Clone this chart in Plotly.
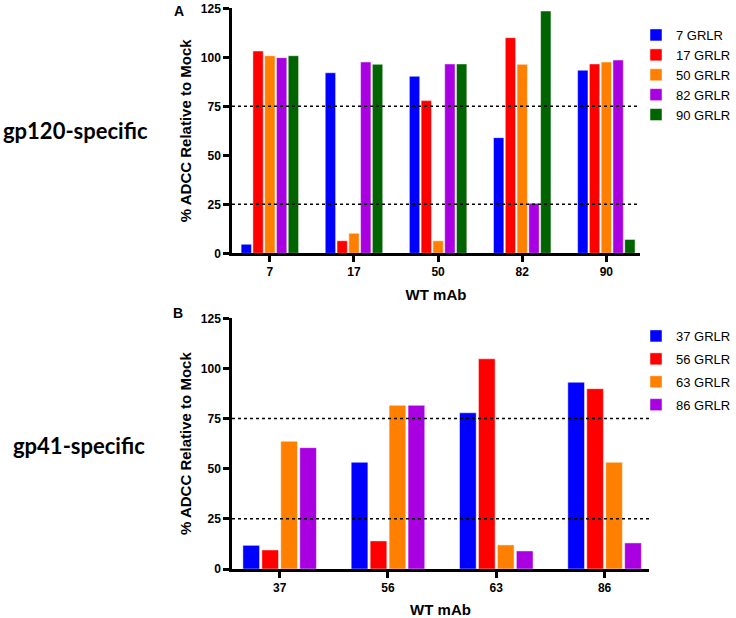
import plotly.graph_objects as go

W, H = 736, 618

# ---- Panel A (gp120-specific) ----
top_categories = ["7", "17", "50", "82", "90"]
top_series = ["7 GRLR", "17 GRLR", "50 GRLR", "82 GRLR", "90 GRLR"]
top_7grlr = [4.6, 92.1, 90.3, 59.0, 93.4]
top_17grlr = [103.2, 6.4, 77.9, 110.0, 96.6]
top_50grlr = [100.8, 10.2, 6.4, 96.4, 97.6]
top_82grlr = [99.8, 97.6, 96.6, 25.5, 98.6]
top_90grlr = [100.8, 96.4, 96.6, 123.6, 7.1]

# ---- Panel B (gp41-specific) ----
bot_categories = ["37", "56", "63", "86"]
bot_series = ["37 GRLR", "56 GRLR", "63 GRLR", "86 GRLR"]
bot_37grlr = [11.8, 53.2, 77.9, 93.1]
bot_56grlr = [9.5, 14.0, 104.8, 89.9]
bot_63grlr = [63.7, 81.6, 12.0, 53.2]
bot_86grlr = [60.5, 81.6, 9.0, 13.0]

y_ticks = [0, 25, 50, 75, 100, 125]
ref_lines = [25, 75]

colors = ["#0000FF", "#FF0000", "#FF8000", "#A800E0", "#006400"]

fig = go.Figure()

top_vals = [top_7grlr, top_17grlr, top_50grlr, top_82grlr, top_90grlr]
for i, (name, vals) in enumerate(zip(top_series, top_vals)):
    fig.add_trace(go.Bar(
        x=top_categories, y=vals, name=name,
        marker=dict(color=colors[i], line=dict(color="rgba(255,255,255,0.6)", width=0.8)),
        xaxis="x", yaxis="y", legend="legend", legendgroup="a",
    ))

bot_vals = [bot_37grlr, bot_56grlr, bot_63grlr, bot_86grlr]
for i, (name, vals) in enumerate(zip(bot_series, bot_vals)):
    fig.add_trace(go.Bar(
        x=bot_categories, y=vals, name=name,
        marker=dict(color=colors[i], line=dict(color="rgba(255,255,255,0.6)", width=0.8)),
        xaxis="x2", yaxis="y2", legend="legend2", legendgroup="b" + str(i),
    ))

font_main = "Liberation Sans, Arial, sans-serif"


def xpx(p):
    return p / W


def ypx(p):
    return 1 - p / H


axis_common = dict(
    showline=True, linecolor="black", linewidth=2.5,
    ticks="outside", ticklen=6, tickwidth=2.5, tickcolor="black",
    showgrid=False, zeroline=False, automargin=False,
    tickfont=dict(family=font_main, size=12, color="black", weight="bold"),
)

fig.update_layout(
    width=W, height=H,
    margin=dict(l=0, r=0, t=0, b=0, autoexpand=False),
    paper_bgcolor="white", plot_bgcolor="white",
    barmode="group", bargap=0.3, bargroupgap=0.12,
    font=dict(family=font_main, color="black"),
    xaxis=dict(
        domain=[xpx(232), xpx(640)], anchor="y", type="category",
        range=[-0.45, 4.4],
        title=dict(text="WT mAb", font=dict(family=font_main, size=15, weight="bold"), standoff=12),
        **axis_common,
    ),
    yaxis=dict(
        domain=[ypx(253.3), ypx(8.3)], anchor="x", range=[0, 125],
        tickvals=y_ticks,
        title=dict(text="% ADCC Relative to Mock", font=dict(family=font_main, size=15, weight="bold"), standoff=6),
        **axis_common,
    ),
    xaxis2=dict(
        domain=[xpx(232), xpx(649)], anchor="y2", type="category",
        range=[-0.44, 3.41],
        title=dict(text="WT mAb", font=dict(family=font_main, size=15, weight="bold"), standoff=15),
        **axis_common,
    ),
    yaxis2=dict(
        domain=[ypx(569), ypx(318.3)], anchor="x2", range=[0, 125],
        tickvals=y_ticks,
        title=dict(text="% ADCC Relative to Mock", font=dict(family=font_main, size=15, weight="bold"), standoff=6),
        **axis_common,
    ),
    legend=dict(
        x=1, y=ypx(20), xanchor="right", yanchor="top",
        font=dict(family=font_main, size=13, color="black"),
        tracegroupgap=0, bgcolor="rgba(0,0,0,0)",
    ),
    legend2=dict(
        x=1, y=ypx(321), xanchor="right", yanchor="top",
        font=dict(family=font_main, size=13, color="black"),
        tracegroupgap=3, bgcolor="rgba(0,0,0,0)",
    ),
)

for xr, yr in [("x domain", "y"), ("x2 domain", "y2")]:
    for v in ref_lines:
        fig.add_shape(type="line", xref=xr, yref=yr, x0=0, x1=1, y0=v, y1=v,
                      line=dict(color="black", width=1.5, dash="dot"), layer="above")

annos = [
    dict(text="A", x=xpx(179), y=ypx(11), size=14, family=font_main),
    dict(text="B", x=xpx(178), y=ypx(313), size=14, family=font_main),
    dict(text="gp120-specific", x=xpx(75), y=ypx(130), size=22, family="Lato, Carlito, Calibri, sans-serif"),
    dict(text="gp41-specific", x=xpx(79), y=ypx(445), size=22, family="Lato, Carlito, Calibri, sans-serif"),
]
for a in annos:
    fig.add_annotation(text=a["text"], x=a["x"], y=a["y"], xref="paper", yref="paper",
                       xanchor="center", yanchor="middle", showarrow=False,
                       font=dict(family=a["family"], size=a["size"], color="black", weight="bold"))

# Remove the default page margin so the figure sits at the window's top-left corner.
fig.write_html(
    "out.html",
    config={"displayModeBar": False},
    post_script="document.body.style.margin='0';document.body.style.padding='0';",
)
